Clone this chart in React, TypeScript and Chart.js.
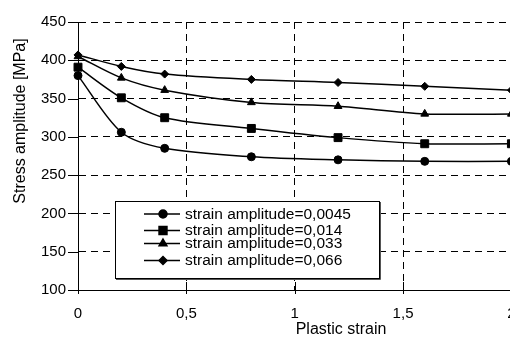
import React, { useEffect, useRef } from "react";
import { Chart, registerables } from "chart.js";
import { drawPoint } from "chart.js/helpers";

Chart.register(...registerables);

const FONT = "'Liberation Sans', Arial, sans-serif";

// Data
const plasticStrain = [0, 0.2, 0.4, 0.8, 1.2, 1.6, 2];
const amp0045 = [380, 306, 285, 274, 270, 268, 268];
const amp014 = [391, 351, 325, 311, 299, 291, 291];
const amp033 = [405, 377, 361, 345, 340, 330, 330];
const amp066 = [407, 392, 382, 375, 371, 366, 361];
const seriesLabels = [
  "strain amplitude=0,0045",
  "strain amplitude=0,014",
  "strain amplitude=0,033",
  "strain amplitude=0,066",
];
const xTitle = "Plastic strain";
const yTitle = "Stress amplitude [MPa]";

const seriesValues = [amp0045, amp014, amp033, amp066];
const markerStyles = ["circle", "rect", "triangle", "rectRot"];
const markerRadii = [4, 5.6, 4.5, 4];

const overlay = {
  id: "overlay",
  afterDraw(chart: any) {
    const ctx = chart.ctx;
    const { left, bottom } = chart.chartArea;
    const xs = chart.scales.x;
    const ys = chart.scales.y;
    ctx.save();
    ctx.strokeStyle = "#000";
    ctx.lineWidth = 1;
    ctx.setLineDash([]);
    ys.ticks.forEach((t: any) => {
      const y = Math.round(ys.getPixelForValue(t.value)) + 0.5;
      ctx.beginPath();
      ctx.moveTo(left - 10, y);
      ctx.lineTo(left, y);
      ctx.stroke();
    });
    xs.ticks.forEach((t: any) => {
      const x = Math.round(xs.getPixelForValue(t.value)) + 0.5;
      ctx.beginPath();
      ctx.moveTo(x, bottom - 8);
      ctx.lineTo(x, bottom + 4);
      ctx.stroke();
    });
    // titles
    ctx.fillStyle = "#000";
    ctx.font = `16px ${FONT}`;
    ctx.textAlign = "center";
    ctx.textBaseline = "middle";
    ctx.fillText(xTitle, 333, 322);
    ctx.save();
    ctx.translate(12.5, 113);
    ctx.rotate(-Math.PI / 2);
    ctx.fillText(yTitle, 0, 0);
    ctx.restore();

    // legend
    const bx = 107, by = 193, bw = 264, bh = 77;
    ctx.fillStyle = "#fff";
    ctx.fillRect(bx, by, bw, bh);
    ctx.strokeStyle = "#000";
    ctx.strokeRect(bx + 0.5, by + 0.5, bw, bh);
    ctx.strokeStyle = "#555";
    ctx.beginPath();
    ctx.moveTo(bx + 1, by + bh + 1.5);
    ctx.lineTo(bx + bw + 1.5, by + bh + 1.5);
    ctx.lineTo(bx + bw + 1.5, by + 1);
    ctx.stroke();
    const rows = [206, 222.5, 235.5, 252.5];
    seriesLabels.forEach((lab, i) => {
      const y = rows[i];
      ctx.strokeStyle = "#000";
      ctx.fillStyle = "#000";
      ctx.lineWidth = 1.5;
      ctx.beginPath();
      ctx.moveTo(136, y);
      ctx.lineTo(172, y);
      ctx.stroke();
      drawPoint(
        ctx,
        { pointStyle: markerStyles[i], radius: markerRadii[i], rotation: 0, borderWidth: 1 } as any,
        155,
        y
      );
      ctx.font = `15.5px ${FONT}`;
      ctx.textAlign = "left";
      ctx.textBaseline = "middle";
      ctx.fillStyle = "#000";
      ctx.fillText(lab, 177, y + 0.5);
    });
    ctx.restore();
  },
};

export default function App() {
  const ref = useRef<HTMLCanvasElement | null>(null);
  useEffect(() => {
    if (!ref.current) return;
    const chart = new Chart(ref.current, {
      type: "line",
      data: {
        datasets: seriesValues.map((vals, i) => ({
          label: seriesLabels[i],
          data: plasticStrain.map((x, j) => ({ x, y: vals[j] })),
          borderColor: "#000",
          backgroundColor: "#000",
          borderWidth: 1.5,
          pointStyle: markerStyles[i] as any,
          pointRadius: markerRadii[i],
          pointBorderWidth: 1,
          tension: 0.3,
          fill: false,
          clip: false as any,
        })),
      },
      options: {
        animation: false,
        responsive: false,
        maintainAspectRatio: false,
        layout: { padding: { top: 14, right: 2, left: 0, bottom: 0 } },
        plugins: { legend: { display: false }, tooltip: { enabled: false } },
        scales: {
          x: {
            type: "linear",
            min: 0,
            max: 2,
            ticks: {
              stepSize: 0.5,
              color: "#000",
              font: { family: FONT, size: 15 },
              padding: 15,
              maxRotation: 0,
              callback: (v: any) => String(v).replace(".", ","),
            },
            grid: {
              color: "#000",
              lineWidth: 1,
              drawTicks: false,
            },
            border: { display: true, color: "#000", width: 1, dash: [7, 5] },
            afterFit: (s: any) => {
              s.height = 49;
              s.paddingLeft = 0;
              s.paddingRight = 0;
            },
          },
          y: {
            min: 100,
            max: 450,
            ticks: {
              stepSize: 50,
              color: "#000",
              font: { family: FONT, size: 15 },
              padding: 12,
            },
            grid: { color: "#000", lineWidth: 1, drawTicks: false },
            border: { display: true, color: "#000", width: 1, dash: [7, 5] },
            afterFit: (s: any) => {
              s.width = 70;
              s.paddingTop = 0;
              s.paddingBottom = 0;
            },
          },
        },
      },
      plugins: [overlay],
    });
    return () => chart.destroy();
  }, []);
  return (
    <div style={{ width: 510, height: 331, overflow: "hidden" }}>
      <canvas ref={ref} width={510} height={331} style={{ display: "block" }} />
    </div>
  );
}
